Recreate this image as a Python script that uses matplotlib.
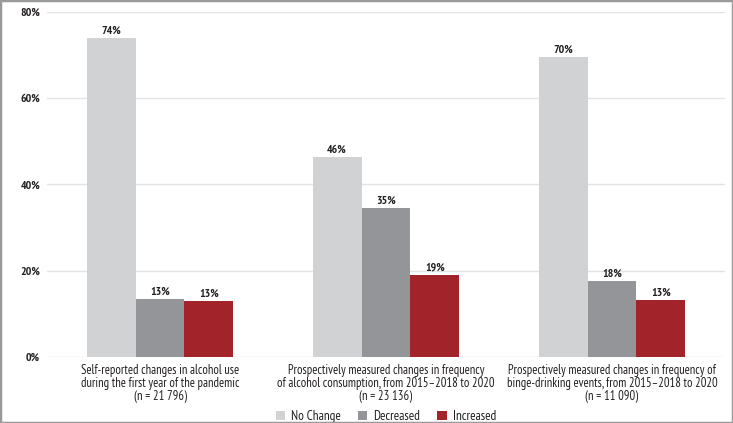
import matplotlib.pyplot as plt
import numpy as np
from matplotlib.patches import Rectangle

categories = [
    "Self-reported changes in alcohol use\nduring the first year of the pandemic\n(n = 21 796)",
    "Prospectively measured changes in frequency\nof alcohol consumption, from 2015\u20132018 to 2020\n(n = 23 136)",
    "Prospectively measured changes in frequency of\nbinge-drinking events, from 2015\u20132018 to 2020\n(n = 11 090)",
]
series_names = ["No Change", "Decreased", "Increased"]
no_change = [74.0, 46.3, 69.6]
decreased = [13.4, 34.5, 17.6]
increased = [12.9, 19.1, 13.3]
value_labels = [["74%", "46%", "70%"], ["13%", "35%", "18%"], ["13%", "19%", "13%"]]
yticks = [0, 20, 40, 60, 80]

colors = ["#d1d2d4", "#939598", "#a3232a"]

plt.rcParams["font.family"] = ["PT Sans Narrow", "Archivo Narrow", "DejaVu Sans"]

fig = plt.figure(figsize=(7.33, 4.23), dpi=100)
ax = fig.add_axes([47 / 733, 1 - 357 / 423, 678 / 733, 345 / 423])

x = np.arange(len(categories))
width = 49 / 226.5
for i, (vals, name) in enumerate(zip([no_change, decreased, increased], series_names)):
    bars = ax.bar(x + (i - 1) * width, vals, width, color=colors[i], label=name, zorder=3)
    for b, lab in zip(bars, value_labels[i]):
        ax.text(b.get_x() + b.get_width() / 2, b.get_height() + 0.5, lab,
                ha="center", va="bottom", fontsize=8.5, fontweight="bold", color="#231f20")

ax.set_xlim(-0.5, 2.5)
ax.set_ylim(0, 80)
ax.set_yticks(yticks)
ax.set_yticklabels([f"{v}%" for v in yticks], fontsize=8.5, fontweight="bold", color="#231f20")
ax.set_xticks(x)
ax.set_xticklabels(categories, fontsize=9, color="#231f20", linespacing=1.02)
ax.tick_params(axis="both", length=0, pad=5)
ax.tick_params(axis="y", pad=5)
ax.grid(axis="y", color="#e3e3e3", linewidth=1, zorder=0)
for s in ax.spines.values():
    s.set_visible(False)

leg = ax.legend(loc="center", bbox_to_anchor=(0.5, -0.172), ncol=3, frameon=False,
                fontsize=9.5, handlelength=0.7, handleheight=0.7, columnspacing=1.3,
                handletextpad=0.45, borderaxespad=0)
for t in leg.get_texts():
    t.set_color("#231f20")

fig.patches.append(Rectangle((0, 0), 1, 1, transform=fig.transFigure, fill=False,
                             edgecolor="#9a9a9a", linewidth=2.5, zorder=10))

fig.savefig("out.png", dpi=100)
plt.close(fig)
